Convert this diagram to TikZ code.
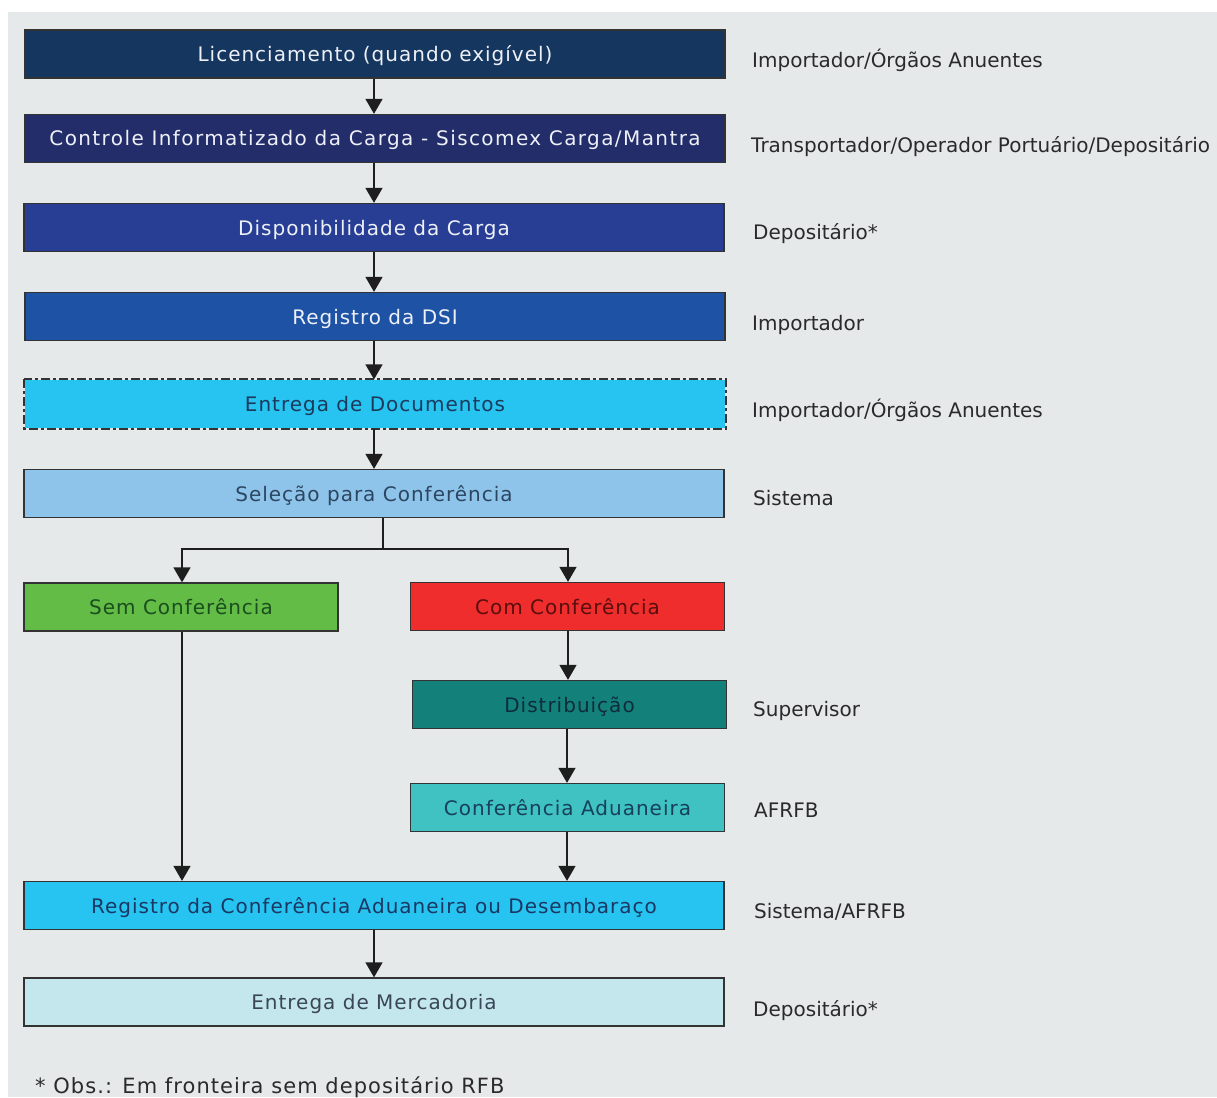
\documentclass[tikz,border=0pt]{standalone}
\usepackage{fontspec}
\setmainfont{DejaVu Sans}
\newfontfamily\boxfont[LetterSpace=5]{DejaVu Sans}
\newfontfamily\widebox[LetterSpace=7]{DejaVu Sans}
\usetikzlibrary{arrows.meta}
\definecolor{bgc}{HTML}{E6E9EA}
\definecolor{bordc}{HTML}{333333}
\definecolor{arrc}{HTML}{1E1E1E}
\definecolor{labc}{HTML}{2A2A2A}
\definecolor{cA}{HTML}{15375F}
\definecolor{cB}{HTML}{232D6A}
\definecolor{cC}{HTML}{283E94}
\definecolor{cD}{HTML}{1D52A4}
\definecolor{cE}{HTML}{27C3F1}
\definecolor{cF}{HTML}{8FC4EA}
\definecolor{cG}{HTML}{63BC46}
\definecolor{cH}{HTML}{EE2D2C}
\definecolor{cI}{HTML}{14807A}
\definecolor{cJ}{HTML}{3FC2C1}
\definecolor{cK}{HTML}{27C3F1}
\definecolor{cL}{HTML}{C4E7ED}
\definecolor{tLight}{HTML}{EEF0F8}
\definecolor{tE}{HTML}{1C3A5C}
\definecolor{tF}{HTML}{2C4662}
\definecolor{tG}{HTML}{1B4D1E}
\definecolor{tH}{HTML}{5A0E0E}
\definecolor{tI}{HTML}{0E2C3C}
\definecolor{tJ}{HTML}{17405A}
\definecolor{tK}{HTML}{1A3862}
\definecolor{tL}{HTML}{3A4656}
\begin{document}
\begin{tikzpicture}[x=1pt,y=-1pt,
  box/.style={draw=bordc, line width=1.3pt, inner sep=0pt, minimum height=48pt,
    text height=15pt, text depth=0pt, font=\boxfont\fontsize{20}{24}\selectfont},
  wide/.style={box, minimum width=700pt},
  half/.style={box, minimum width=314pt},
  lbl/.style={anchor=base west, inner sep=0pt, text=labc, font=\fontsize{20}{24}\selectfont},
  arr/.style={-{Triangle[width=17pt,length=15pt]}, line width=1.5pt, draw=arrc},
  ln/.style={line width=1.5pt, draw=arrc}]
\useasboundingbox (0,0) rectangle (1217,1097);
\fill[white] (0,0) rectangle (1217,1097);
\fill[bgc] (8,12) rectangle (1217,1097);

\node[wide, fill=cA, text=tLight] (n1) at (375,54) {Licenciamento (quando exigível)};
\node[wide, fill=cB, text=tLight, font=\widebox\fontsize{20}{24}\selectfont] (n2) at (375,138.5) {Controle Informatizado da Carga - Siscomex Carga/Mantra};
\node[wide, fill=cC, text=tLight] (n3) at (374,227.5) {Disponibilidade da Carga};
\node[wide, fill=cD, text=tLight] (n4) at (375,316.5) {Registro da DSI};
\node[wide, fill=cE, text=tE, draw=none] (n5) at (375,404) {Entrega de Documentos};
\draw[bordc, line width=1.8pt, dash pattern=on 9pt off 3pt on 3pt off 3pt] (n5.north west) rectangle (n5.south east);
\node[wide, fill=cF, text=tF] (n6) at (374,493.5) {Seleção para Conferência};
\node[half, fill=cG, text=tG] (sem) at (181,607) {Sem Conferência};
\node[half, fill=cH, text=tH] (com) at (567.5,606.5) {Com Conferência};
\node[half, fill=cI, text=tI] (dis) at (569.5,704.5) {Distribuição};
\node[half, fill=cJ, text=tJ] (ca) at (567.5,807.5) {Conferência Aduaneira};
\node[wide, fill=cK, text=tK] (reg) at (374,905.5) {Registro da Conferência Aduaneira ou Desembaraço};
\node[wide, fill=cL, text=tL] (ent) at (374,1002) {Entrega de Mercadoria};

\draw[arr] (n1.south -| 374,0) -- (n2.north -| 374,0);
\draw[arr] (n2.south -| 374,0) -- (n3.north -| 374,0);
\draw[arr] (n3.south -| 374,0) -- (n4.north -| 374,0);
\draw[arr] (n4.south -| 374,0) -- (n5.north -| 374,0);
\draw[arr] (n5.south -| 374,0) -- (n6.north -| 374,0);
\coordinate (j) at (383,549);
\draw[ln] (n6.south -| j) -- (j);
\draw[arr] (j) -| (sem.north -| 182,0);
\draw[arr] (j) -| (com.north -| 568,0);
\draw[arr] (com.south -| 568,0) -- (dis.north -| 568,0);
\draw[arr] (dis.south -| 567,0) -- (ca.north -| 567,0);
\draw[arr] (sem.south -| 182,0) -- (reg.north -| 182,0);
\draw[arr] (ca.south -| 567,0) -- (reg.north -| 567,0);
\draw[arr] (reg.south -| 374,0) -- (ent.north -| 374,0);

\node[lbl] (l1) at (752,68) {Importador/Órgãos Anuentes};
\node[lbl] (l2) at (751,152) {Transportador/Operador Portuário/Depositário};
\node[lbl] (l3) at (753,239) {Depositário*};
\node[lbl] (l4) at (752,330) {Importador};
\node[lbl] (l5) at (752,417) {Importador/Órgãos Anuentes};
\node[lbl] (l6) at (753,505) {Sistema};
\node[lbl] (l7) at (753,716) {Supervisor};
\node[lbl] (l8) at (754,817) {AFRFB};
\node[lbl] (l9) at (754,918) {Sistema/AFRFB};
\node[lbl] (l10) at (753,1016) {Depositário*};

\node[anchor=base west, inner sep=0pt, text=labc, font=\boxfont\fontsize{21}{24}\selectfont] (obs) at (35,1093) {* Obs.: Em fronteira sem depositário RFB};
\end{tikzpicture}
\end{document}
